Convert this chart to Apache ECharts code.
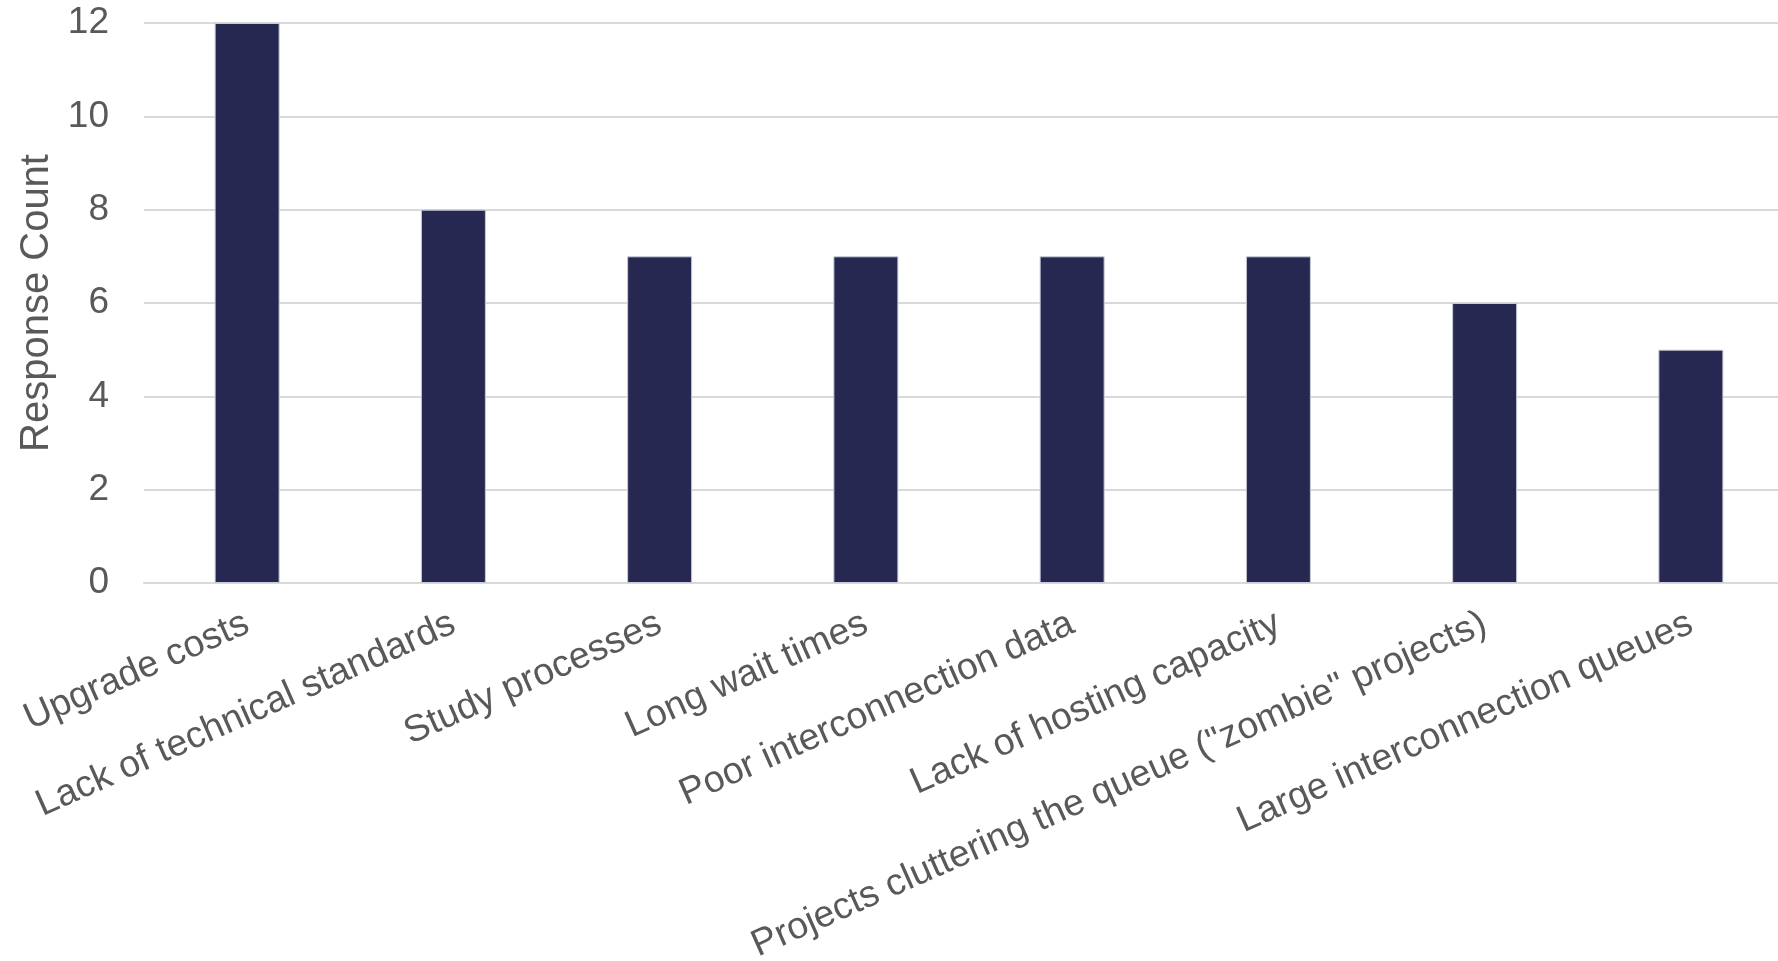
<!DOCTYPE html>
<html>
<head>
<meta charset="utf-8">
<title>Response Count</title>
<script src="https://cdn.jsdelivr.net/npm/echarts@6/dist/echarts.min.js"></script>
<style>
  html, body { margin: 0; padding: 0; background: #fff; }
  #chart { width: 1778px; height: 961px; }
</style>
</head>
<body>
<div id="chart"></div>
<script>
// categories and counts
const categories = [
    'Upgrade costs',
    'Lack of technical standards',
    'Study processes',
    'Long wait times',
    'Poor interconnection data',
    'Lack of hosting capacity',
    'Projects cluttering the queue ("zombie" projects)',
    'Large interconnection queues'
];
const counts = [12, 8, 7, 7, 7, 7, 6, 5];
const yTicks = [0, 2, 4, 6, 8, 10, 12];

const FONT = '"Liberation Sans", Arial, sans-serif';
const GREY = '#595959';

let myChart = echarts.init(document.getElementById('chart'));
let option = {
    animation: false,
    grid: {
        // plot runs a little past the right edge, as in the source
        outerBoundsMode: 'none',
        containLabel: false,
        left: 144,
        right: -16,
        top: 23,
        bottom: 378
    },
    xAxis: {
        type: 'category',
        data: categories,
        axisLine: { lineStyle: { color: '#d9d9d9', width: 2 } },
        axisTick: { show: false },
        axisLabel: {
            interval: 0,
            rotate: 24,
            margin: 39,
            color: GREY,
            fontSize: 37.5,
            fontFamily: FONT
        }
    },
    yAxis: {
        type: 'value',
        min: yTicks[0],
        max: yTicks[yTicks.length - 1],
        interval: 2,
        name: 'Response Count',
        nameLocation: 'middle',
        nameGap: 87,
        nameTextStyle: { color: GREY, fontSize: 40, fontFamily: FONT },
        axisLine: { show: false },
        axisTick: { show: false },
        splitLine: { lineStyle: { color: '#d9d9d9', width: 2 } },
        axisLabel: {
            margin: 35,
            color: GREY,
            fontSize: 37,
            fontFamily: FONT
        }
    },
    series: [{
        type: 'bar',
        data: counts,
        barWidth: 65,
        itemStyle: {
            color: '#262851',
            borderColor: '#c8c9d6',
            borderWidth: 1
        }
    }]
};
myChart.setOption(option);
</script>
</body>
</html>
